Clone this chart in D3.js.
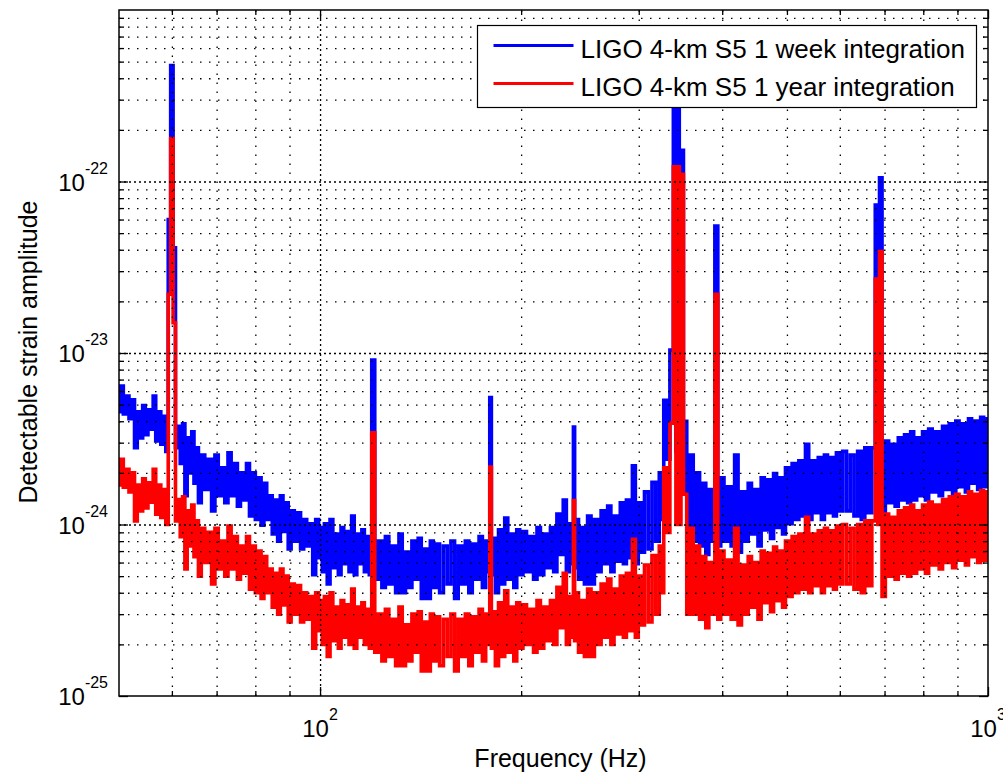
<!DOCTYPE html>
<html>
<head>
<meta charset="utf-8">
<script src="https://cdn.jsdelivr.net/npm/d3@7"></script>
<style>
  body { margin: 0; background: #fff; }
  text { font-family: "Liberation Sans", Arial, Helvetica, sans-serif; fill: #000; }
</style>
</head>
<body>
<div id="chart"></div>
<script>
// strain amplitudes are stored in units of 1e-24
var AMP_UNIT = 1e-24;

var freqHz = [
  50,50.5,51,51.5,52,52.5,53,53.5,54,54.5, 55,55.5,56,56.5,57,57.5,58,58.5,59,59.5,
  60,60.5,61,61.5,62,62.5,63,63.5,64,64.5, 65,65.5,66,
  66.8,67.6,68.4,69.2,70,70.8,71.6,72.4,73.2,74, 74.8,75.6,76.4,77.2,78,78.8,79.6,80.4,81.2,82,
  82.8,83.6,84.4,85.2,86,86.8,87.6,88.4,89.2,90,
  91,92,93,94,95,96,97,98,99,100, 100.5,101,102,103,104,105,106,107,108,109,
  110,111,112,113,114,115,116,117,118,119, 120,
  121.5,123,124.5,126,127.5,129,130.5,132,133.5,135, 136.5,138,139.5,141,142.5,144,145.5,147,148.5,150,
  152,154,156,158,160,162,164,166,168,170, 172,174,176,178,179,180,181,182,184,186,
  188,190,192,194,196,198,200,
  202.5,205,207.5,210,212.5,215,217.5,220,222.5,225, 227.5,230,232.5,235,237.5,239,240,241,242.5,245,
  247.5,250,
  253,256,259,262,265,268,271,274,277,280, 283,286,289,292,295,298,301,
  304,308,312,316,320,324,326,328,332,336, 340,342,344,346,348,352,356,360,364,368,
  372,376,380,384,388,392,396,400,
  405,410,415,420,425,430,435,440,445,450, 455,460,465,470,475,480,485,490,495,500,
  506,512,518,524,530,536,542,548,554,560, 566,572,578,584,590,596,602,
  610,618,626,634,642,650,658,666,674,682, 686,690,698,706,714,722,730,738,746,754,
  762,770,778,786,794,802,
  810,820,830,840,850,860,870,880,890,900, 910,920,930,940,950,960,970,980,990,1000
];

// LIGO 4-km S5, 1 week integration
var weekAmp = [
  4.54,6.41,4.41,5.61,4.14,5.34,2.80,4.54,3.20,4.94, 3.34,4.67,3.60,5.61,3.07,4.54,2.94,4.27,2.67,60,
  475,41,2.80,3.74,2.27,3.87,1.47,3.20,2.00,3.47, 1.74,2.80,1.34,
  2.54,1.60,2.40,1.20,2.54,1.47,2.14,1.34,2.62,1.47, 2.27,1.28,2.00,1.39,2.27,1.12,2.00,1.07,1.87,0.99,
  1.74,1.07,1.47,0.88,1.39,0.80,1.47,0.91,1.34,0.72,
  1.20,0.80,1.17,0.72,1.07,0.75,1.01,0.51,1.07,0.64, 0.96,0.53,1.01,0.45,1.07,0.56,0.88,0.51,0.96,0.59,
  0.91,0.53,1.12,0.51,0.88,0.59,0.93,0.53,0.85,0.51, 9.1,
  0.48,0.80,0.43,0.85,0.45,0.75,0.40,0.88,0.40,0.69, 0.43,0.80,0.48,0.83,0.37,0.72,0.37,0.80,0.43,0.77,
  0.40,0.75,0.45,0.80,0.37,0.75,0.45,0.80,0.40,0.77, 0.48,0.85,0.43,0.80,0.53,5.5,0.51,0.83,0.40,0.93,
  0.45,1.09,0.48,0.88,0.43,0.93,0.51,
  0.91,0.53,0.85,0.48,0.96,0.51,0.88,0.56,0.96,0.53, 1.15,0.67,1.39,0.53,1.01,0.59,3.7,0.56,1.07,0.48,
  0.96,0.45,
  1.12,0.45,1.07,0.53,1.20,0.59,1.28,0.53,1.12,0.61, 1.34,0.59,1.39,0.64,2.20,0.59,1.34,
  0.69,1.55,0.72,1.76,0.80,2.00,1.07,5.3,2.40,10.4, 330,2.67,330,2.67,152,4.0,0.80,2.54,0.80,2.00,
  0.75,1.74,0.67,1.60,0.80,55,0.75,1.87,
  0.80,1.66,0.75,2.54,0.69,1.55,0.80,1.74,0.88,1.60, 0.75,1.87,0.93,1.82,0.83,1.98,0.96,1.87,0.88,2.14,
  1.01,2.27,1.07,2.35,1.12,2.94,1.07,2.35,1.17,2.46, 1.07,2.54,1.17,2.46,1.12,2.62,1.20,
  2.67,1.20,2.54,1.12,2.67,1.07,2.80,1.17,2.80,73, 2.67,105,1.01,3.07,1.34,2.94,1.28,3.20,1.39,3.34,
  1.34,3.47,1.39,3.20,1.47,3.47,
  1.39,3.60,1.55,3.47,1.47,3.74,1.60,3.87,1.50,4.01, 1.66,3.87,1.55,4.14,1.74,4.01,1.60,4.22,1.66,4.14
];

// LIGO 4-km S5, 1 year integration
var yearAmp = [
  1.70,2.40,1.65,2.10,1.55,2.00,1.05,1.70,1.20,1.85, 1.25,1.75,1.35,2.10,1.15,1.70,1.10,1.60,1.00,22,
  178,15,1.05,1.40,0.85,1.45,0.55,1.20,0.75,1.30, 0.65,1.05,0.50,
  0.95,0.60,0.90,0.45,0.95,0.55,0.80,0.50,0.98,0.55, 0.85,0.48,0.75,0.52,0.85,0.42,0.75,0.40,0.70,0.37,
  0.65,0.40,0.55,0.33,0.52,0.30,0.55,0.34,0.50,0.27,
  0.45,0.30,0.44,0.27,0.40,0.28,0.38,0.19,0.40,0.24, 0.36,0.20,0.38,0.17,0.40,0.21,0.33,0.19,0.36,0.22,
  0.34,0.20,0.42,0.19,0.33,0.22,0.35,0.20,0.32,0.19, 3.42,
  0.18,0.30,0.16,0.32,0.17,0.28,0.15,0.33,0.15,0.26, 0.16,0.30,0.18,0.31,0.14,0.27,0.14,0.30,0.16,0.29,
  0.15,0.28,0.17,0.30,0.14,0.28,0.17,0.30,0.15,0.29, 0.18,0.32,0.16,0.30,0.20,2.16,0.19,0.31,0.15,0.35,
  0.17,0.41,0.18,0.33,0.16,0.35,0.19,
  0.34,0.20,0.32,0.18,0.36,0.19,0.33,0.21,0.36,0.20, 0.43,0.25,0.52,0.20,0.38,0.22,1.38,0.21,0.40,0.18,
  0.36,0.17,
  0.42,0.17,0.40,0.20,0.45,0.22,0.48,0.20,0.42,0.23, 0.50,0.22,0.52,0.24,0.82,0.22,0.50,
  0.26,0.58,0.27,0.66,0.30,0.75,0.40,2.14,0.90,3.9, 122,1.0,122,1.0,110,1.5,0.30,0.95,0.30,0.75,
  0.28,0.65,0.25,0.60,0.30,22,0.28,0.70,
  0.30,0.62,0.28,0.95,0.26,0.58,0.30,0.65,0.33,0.60, 0.28,0.70,0.35,0.68,0.31,0.74,0.36,0.70,0.33,0.80,
  0.38,0.85,0.40,0.88,0.42,1.10,0.40,0.88,0.44,0.92, 0.40,0.95,0.44,0.92,0.42,0.98,0.45,
  1.00,0.45,0.95,0.42,1.00,0.40,1.05,0.44,1.05,27, 1.0,39,0.38,1.15,0.50,1.10,0.48,1.20,0.52,1.25,
  0.50,1.30,0.52,1.20,0.55,1.30,
  0.52,1.35,0.58,1.30,0.55,1.40,0.60,1.45,0.56,1.50, 0.62,1.45,0.58,1.55,0.65,1.50,0.60,1.58,0.62,1.55
];

if (weekAmp.length !== freqHz.length || yearAmp.length !== freqHz.length) {
  console.error("length mismatch", freqHz.length, weekAmp.length, yearAmp.length);
}

var seriesNames = ["LIGO 4-km S5 1 week integration", "LIGO 4-km S5 1 year integration"];
var seriesColors = ["#0000ff", "#ff0000"];

var xMajorTicks = [100, 1000];
var xTickExps = ["2", "3"];
var xMinorTicks = [60, 70, 80, 90, 200, 300, 400, 500, 600, 700, 800, 900];
var yMajorTicks = [1e-25, 1e-24, 1e-23, 1e-22];
var yTickExps = ["-25", "-24", "-23", "-22"];
var yMinorTicks = [];
yMajorTicks.forEach(function(p){
  [2,3,4,5,6,7,8,9].forEach(function(m){ yMinorTicks.push(m * p); });
});

var margin = {top: 10, right: 15, bottom: 81, left: 119};
var width = 1003 - margin.left - margin.right;
var height = 777 - margin.top - margin.bottom;

var root = d3.select("#chart").append("svg")
    .attr("width", 1003)
    .attr("height", 777);

var svg = root.append("g")
    .attr("transform", "translate(" + margin.left + "," + margin.top + ")");

var x = d3.scaleLog().domain([50, 1000]).range([0, width]);
var y = d3.scaleLog().domain([1e-25, 1e-21]).range([height, 0]);

svg.append("clipPath").attr("id", "plotclip")
   .append("rect").attr("width", width).attr("height", height);

var week = freqHz.map(function(f, i){ return {f: f, v: weekAmp[i] * AMP_UNIT}; });
var year = freqHz.map(function(f, i){ return {f: f, v: yearAmp[i] * AMP_UNIT}; });

var line = d3.line()
    .curve(d3.curveStep)
    .x(function(d){ return x(d.f); })
    .y(function(d){ return y(d.v); });

var curves = svg.append("g").attr("clip-path", "url(#plotclip)");
[week, year].forEach(function(s, i){
  curves.append("path")
     .datum(s)
     .attr("fill", "none")
     .attr("stroke", seriesColors[i])
     .attr("stroke-width", 3.6)
     .attr("d", line);
});

// dotted grid, drawn over the curves like matlab does
function gridLines(g, dash){
  g.select(".domain").remove();
  g.selectAll(".tick text").remove();
  g.selectAll(".tick line").attr("stroke", "#000").attr("stroke-width", 1.3)
   .attr("stroke-dasharray", dash);
}

svg.append("g")
   .attr("transform", "translate(0," + height + ")")
   .call(d3.axisBottom(x).tickValues(xMinorTicks).tickSize(-height))
   .call(gridLines, "1.5,7.5");
svg.append("g")
   .call(d3.axisLeft(y).tickValues(yMinorTicks).tickSize(-width))
   .call(gridLines, "1.5,7.5");
svg.append("g")
   .attr("transform", "translate(0," + height + ")")
   .call(d3.axisBottom(x).tickValues([100]).tickSize(-height))
   .call(gridLines, "2,3");
svg.append("g")
   .call(d3.axisLeft(y).tickValues([1e-24, 1e-23, 1e-22]).tickSize(-width))
   .call(gridLines, "2,3");

// inward tick marks on all four sides
function tickMarks(g){
  g.select(".domain").remove();
  g.selectAll(".tick text").remove();
  g.selectAll(".tick line").attr("stroke", "#000").attr("stroke-width", 1.3);
}
[[d3.axisBottom, "translate(0," + height + ")", x, xMajorTicks, xMinorTicks],
 [d3.axisTop, "translate(0,0)", x, xMajorTicks, xMinorTicks],
 [d3.axisLeft, "translate(0,0)", y, yMajorTicks, yMinorTicks],
 [d3.axisRight, "translate(" + width + ",0)", y, yMajorTicks, yMinorTicks]
].forEach(function(a){
  svg.append("g").attr("transform", a[1])
     .call(a[0](a[2]).tickValues(a[3]).tickSize(-9)).call(tickMarks);
  svg.append("g").attr("transform", a[1])
     .call(a[0](a[2]).tickValues(a[4]).tickSize(-5)).call(tickMarks);
});

// axes box
svg.append("rect")
   .attr("width", width).attr("height", height)
   .attr("fill", "none").attr("stroke", "#000").attr("stroke-width", 1.5);

// tick labels with superscript exponents
svg.append("g").selectAll("text")
   .data(xMajorTicks)
   .enter().append("text")
   .attr("x", function(d){ return x(d); })
   .attr("y", height + 41)
   .attr("text-anchor", "middle")
   .each(function(d, i){
     var t = d3.select(this);
     t.append("tspan").style("font-size", "24px").text("10");
     t.append("tspan").attr("dy", -17).style("font-size", "16px").text(xTickExps[i]);
   });

svg.append("g").selectAll("text")
   .data(yMajorTicks)
   .enter().append("text")
   .attr("x", -11)
   .attr("y", function(d){ return y(d) + 9; })
   .attr("text-anchor", "end")
   .each(function(d, i){
     var t = d3.select(this);
     t.append("tspan").style("font-size", "24px").text("10");
     t.append("tspan").attr("dy", -17).style("font-size", "16px").text(yTickExps[i]);
   });

svg.append("text")
   .attr("x", width / 2 + 7)
   .attr("y", height + 71)
   .attr("text-anchor", "middle")
   .style("font-size", "25px")
   .text("Frequency (Hz)");

svg.append("text")
   .attr("transform", "translate(-82," + (height / 2 - 1) + ") rotate(-90)")
   .attr("text-anchor", "middle")
   .style("font-size", "25px")
   .text("Detectable strain amplitude");

// legend
var legend = svg.append("g").attr("transform", "translate(358.5,15.5)");
legend.append("rect")
   .attr("width", 499).attr("height", 82)
   .attr("fill", "#fff").attr("stroke", "#000").attr("stroke-width", 1.2);
seriesNames.forEach(function(name, i){
  var ly = 20 + i * 38;
  legend.append("line")
     .attr("x1", 16).attr("x2", 96)
     .attr("y1", ly).attr("y2", ly)
     .attr("stroke", seriesColors[i]).attr("stroke-width", 3);
  legend.append("text")
     .attr("x", 103).attr("y", ly + 12)
     .style("font-size", "26px")
     .text(name);
});
</script>
</body>
</html>
